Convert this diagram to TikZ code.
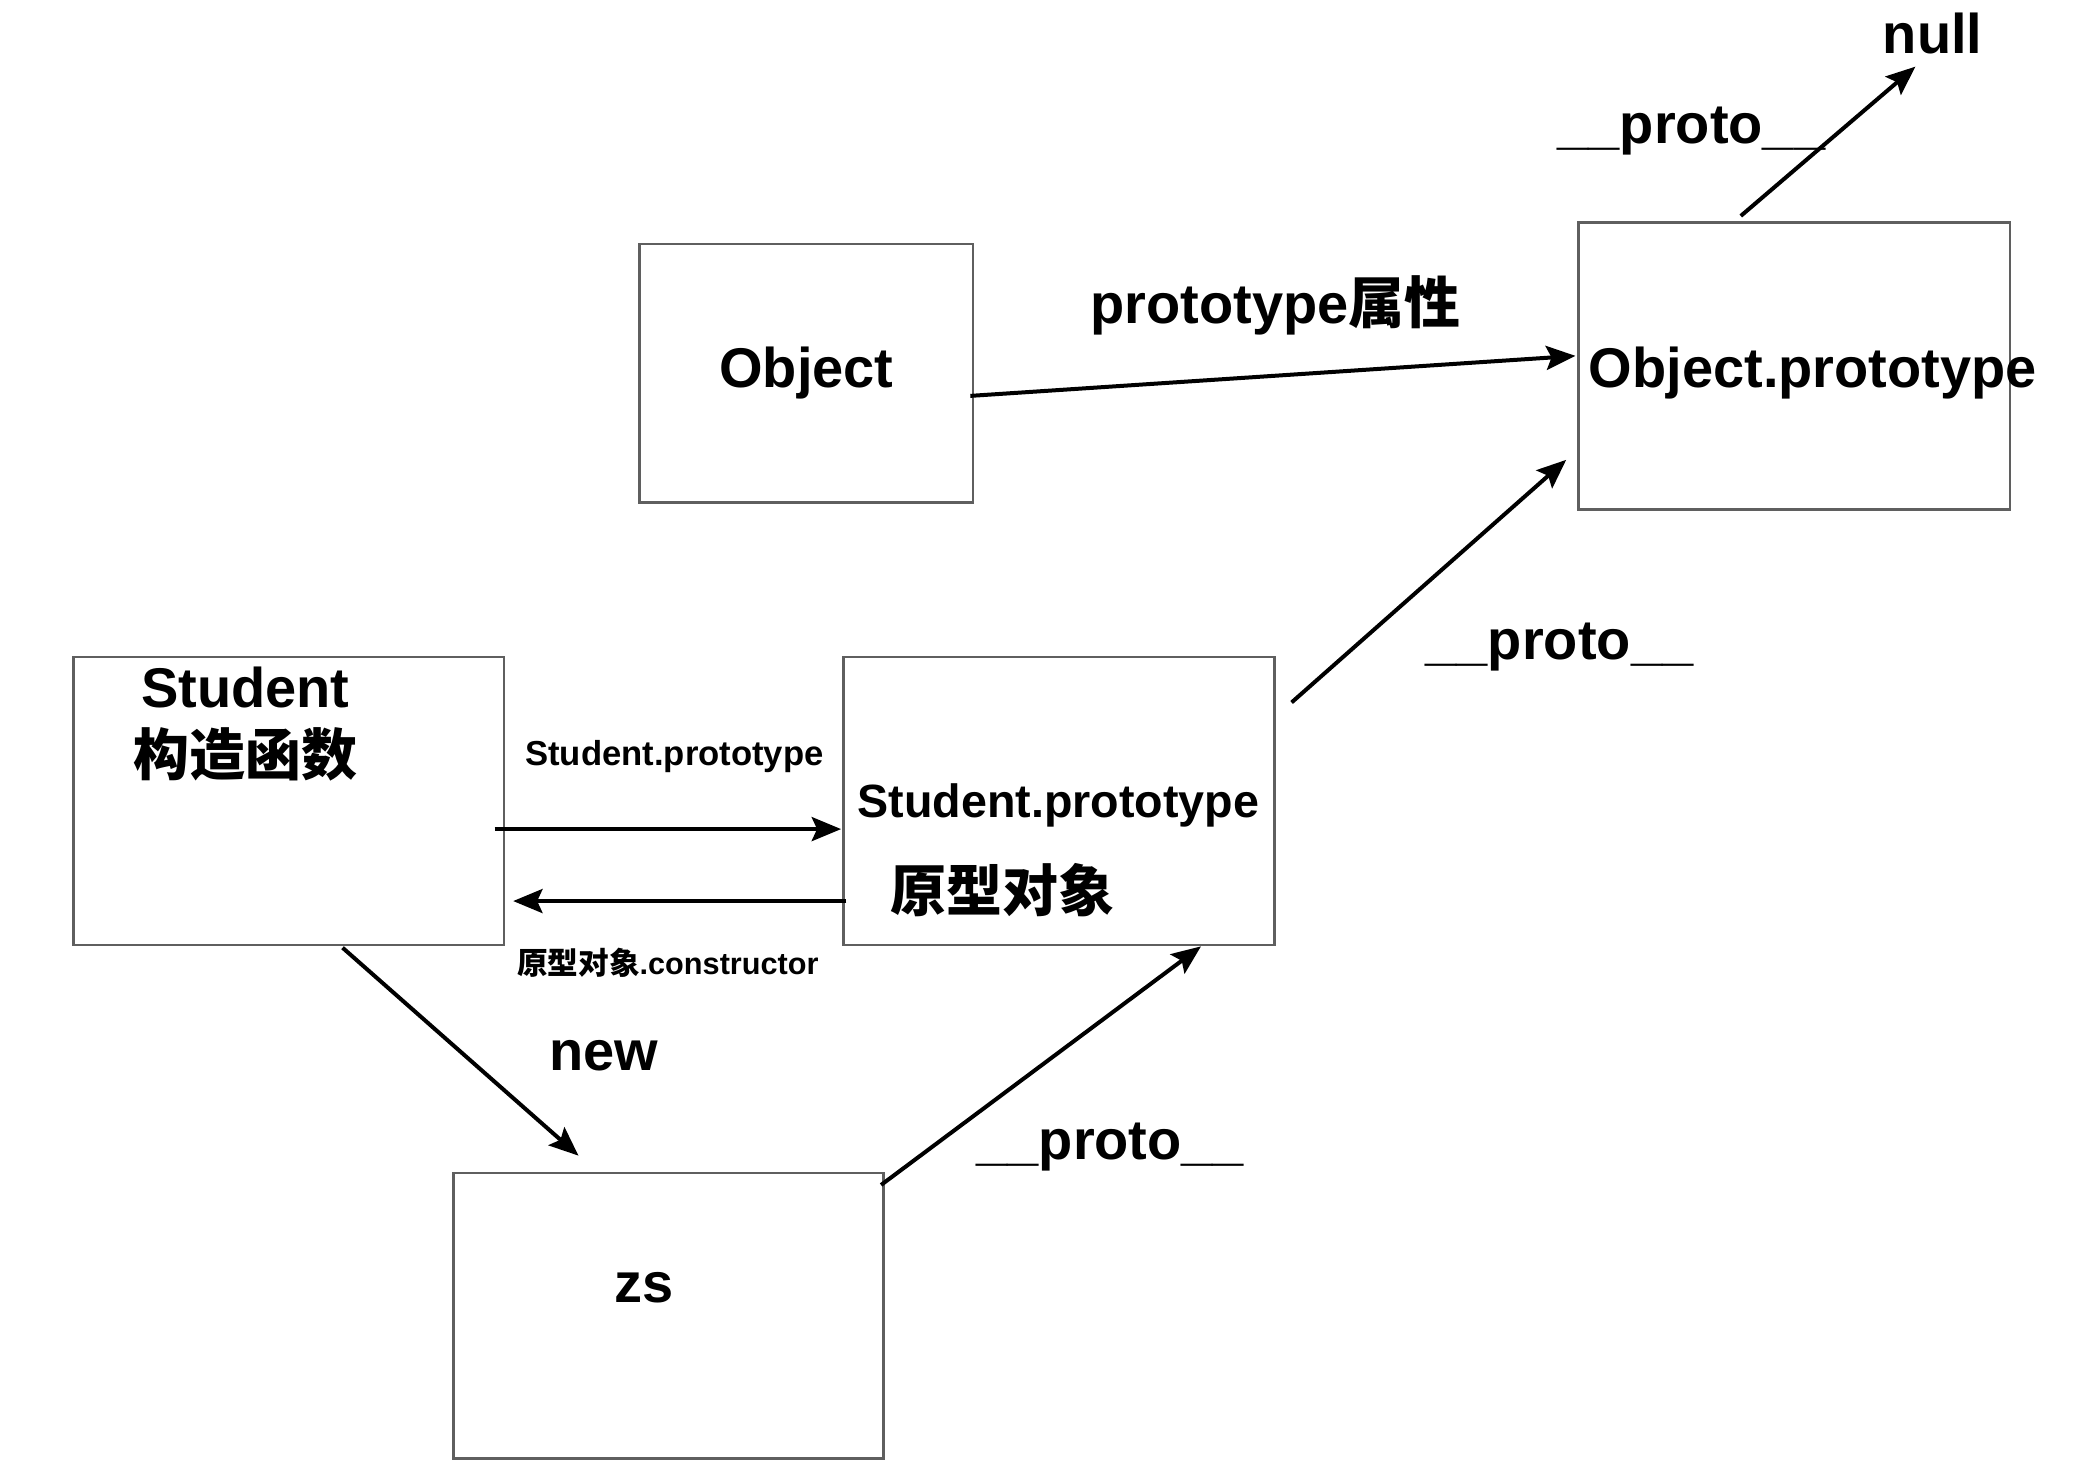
\documentclass[tikz,border=0pt]{standalone}
\usepackage{fontspec}
\setmainfont{Liberation Sans}
\newfontfamily\cjk{Noto Sans CJK SC}
\usepackage{tikz}
\usetikzlibrary{calc}
\usetikzlibrary{arrows.meta}
\definecolor{boxgray}{RGB}{95, 95, 95}

\begin{document}
\begin{tikzpicture}[x=0.5pt, y=0.5pt,
        objbox/.style={draw=boxgray, line width=1pt, inner sep=0pt, minimum width=161.5pt, minimum height=108pt},
        bigtxt/.style={font=\fontsize{21}{25}\selectfont\bfseries, inner sep=0pt},
        midtxt/.style={font=\fontsize{17.5}{21}\selectfont\bfseries, inner sep=0pt},
        smalltxt/.style={font=\fontsize{13}{15}\selectfont\bfseries, inner sep=0pt},
        tinytxt/.style={font=\fontsize{11.5}{14}\selectfont\bfseries, inner sep=0pt},
        link/.style={line width=1.5pt, -{Stealth[length=11pt, width=9pt, inset=2pt]}}]
            \useasboundingbox (0,0) rectangle (1568,-1104);
            % boxes
            \node[objbox, minimum width=125pt, minimum height=97pt] (obj)      at ( 605.0,-280.0) {};
            \node[objbox, minimum width=162pt, minimum height=107.5pt] (objproto) at (1346.0,-274.5) {};
            \node[objbox]                                           (stu)      at ( 216.5,-601.0) {};
            \node[objbox]                                           (stuproto) at ( 794.5,-601.0) {};
            \node[objbox, minimum height=107pt]                     (zs)       at ( 501.5,-987.0) {};
            % texts in the boxes
            \node[bigtxt, anchor=base]   (objtxt)      at ( 605,-291) {Object};
            \node[bigtxt, anchor=base]   (objprototxt) at (1360,-291) {Object.prototype};
            \node[bigtxt, anchor=base]   (stutxt)      at ( 184,-531) {Student};
            \node[bigtxt, anchor=center] (stucjk)      at ( 184,-566) {\cjk 构造函数};
            \node[midtxt, anchor=base]   (stuprototxt) at ( 794,-613) {Student.prototype};
            \node[bigtxt, anchor=center] (stuprotocjk) at ( 752,-668) {\cjk 原型对象};
            \node[bigtxt, anchor=base]   (zstxt)       at ( 483,-977) {zs};
            % labels
            \node[bigtxt, anchor=base]   (null)     at (1450, -40) {null};
            \node[bigtxt, anchor=base]   (protoA)   at (1269,-108) {\_\_proto\_\_};
            \node[bigtxt, anchor=base]   (protoattr) at (957,-243) {prototype{\cjk 属性}};
            \node[bigtxt, anchor=base]   (protoB)   at (1170,-495) {\_\_proto\_\_};
            \node[smalltxt, anchor=base] (spattr)   at ( 506,-574) {Student.prototype};
            \node[tinytxt, anchor=center] (ctor)    at ( 501,-722) {{\cjk 原型对象}.constructor};
            \node[bigtxt, anchor=base]   (new)      at ( 453,-803) {new};
            \node[bigtxt, anchor=base]   (protoC)   at ( 833,-870) {\_\_proto\_\_};
            \coordinate (nulltip) at (1437,-50);
            % connectors
            \draw[link] ($(objproto.north west)+(123,4)$) -- (nulltip);
            \draw[link] ($(obj.east)+(-3,-17)$) -- ($(objproto.west)+(-1,7.5)$);
            \draw[link] ($(stuproto.north east)+(12,-35)$) -- ($(objproto.south west)+(-8,38)$);
            \draw[link] ($(stu.east)+(-8,-21)$) -- ($(stuproto.west)+(-1,-21)$);
            \draw[link] ($(stuproto.west)+(3,-75)$) -- ($(stu.east)+(6,-75)$);
            \draw[link] ($(stu.south west)+(203,-1)$) -- ($(zs.north west)+(95,12)$);
            \draw[link] ($(zs.north east)+(-3,-10)$) -- ($(stuproto.south west)+(269,0)$);
        \end{tikzpicture}
\end{document}
